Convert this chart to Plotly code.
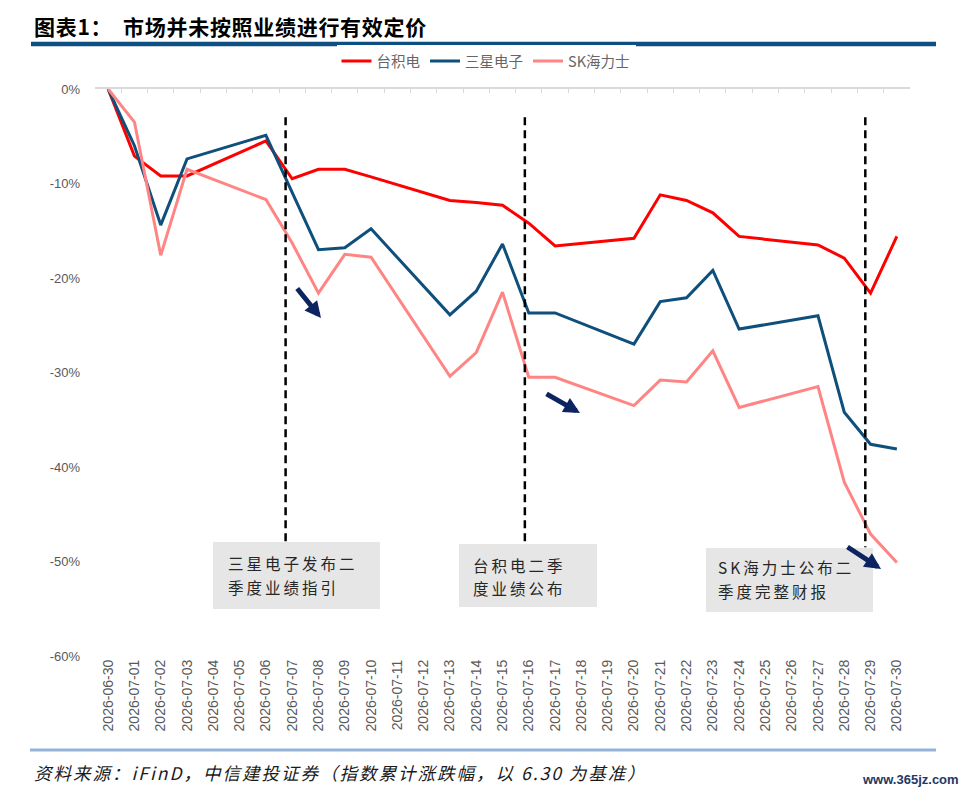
import plotly.graph_objects as go

dates = ["2026-06-30"] + ["2026-07-%02d" % d for d in range(1, 31)]

tsmc = [0, -7.1, -9.2, -9.2, None, None, -5.5, -9.5, -8.5, -8.5, -9.3, None, None,
        -11.8, -12.0, -12.3, -14.2, -16.6, None, None, -15.8, -11.2, -11.8, -13.1,
        -15.6, None, None, -16.5, -17.9, -21.6, -15.6]
samsung = [0, -6.0, -14.4, -7.4, None, None, -4.9, -10.9, -17.0, -16.8, -14.8, None, None,
           -23.9, -21.4, -16.4, -23.7, -23.7, None, None, -27.0, -22.5, -22.1, -19.2,
           -25.4, None, None, -24.0, -34.2, -37.6, -38.1]
hynix = [0, -3.5, -17.6, -8.5, None, None, -11.7, -16.3, -21.6, -17.5, -17.8, None, None,
         -30.4, -27.9, -21.5, -30.5, -30.5, None, None, -33.5, -30.8, -31.0, -27.7,
         -33.7, None, None, -31.5, -41.6, -47.1, -50.1]

series_names = ["台积电", "三星电子", "SK海力士"]
series_colors = ["#ff0000", "#0f4f7b", "#ff8585"]
y_ticks = [0, -10, -20, -30, -40, -50, -60]
y_tick_text = ["0%", "-10%", "-20%", "-30%", "-40%", "-50%", "-60%"]

# page offset from default body margin
OFF = 8
W, H = 967 - OFF, 794 - OFF
# plot area in page pixels: x 95..910, y 89..656
L, T = 95 - OFF, 89 - OFF
R, B = W - (910 - OFF), H - (656 - OFF)
PW, PH = W - L - R, H - T - B


def px(x):
    return (x - OFF - L) / PW


def py(y):
    return (H - B - (y - OFF)) / PH


def spaced(t, s):
    return '<span style="letter-spacing:%spx">%s</span>' % (s, t)


fig = go.Figure()
for name, vals, col in zip(series_names, [tsmc, samsung, hynix], series_colors):
    fig.add_trace(go.Scatter(x=dates, y=vals, name=name, mode="lines",
                             connectgaps=True, line=dict(color=col, width=3)))
fig.add_trace(go.Scatter(x=dates, y=[None] * len(dates), xaxis="x2", showlegend=False,
                         hoverinfo="skip", mode="lines"))

gray = "#595959"
fig.update_layout(
    width=W, height=H,
    margin=dict(l=L, r=R, t=T, b=B, autoexpand=False),
    plot_bgcolor="white", paper_bgcolor="white",
    font=dict(family="Liberation Sans, Noto Sans CJK SC", color=gray),
    showlegend=True,
    legend=dict(orientation="h", x=px(486), y=py(61), xanchor="center", yanchor="middle",
                font=dict(size=14.5, color="#666666", family="Noto Sans CJK SC"),
                itemwidth=30, tracegroupgap=0),
    xaxis=dict(type="category", categoryorder="array", categoryarray=dates,
               range=[-0.5, 30.5], showgrid=False, showline=False, zeroline=False,
               ticks="", tickangle=-90, tickfont=dict(size=14, color=gray)),
    xaxis2=dict(type="category", categoryorder="array", categoryarray=dates,
                overlaying="x", side="top", anchor="y", range=[-0.5, 30.5],
                showticklabels=False, ticks="inside", ticklen=4, tickcolor="#d9d9d9",
                tickson="boundaries", showline=True, linecolor="#d9d9d9", linewidth=1.5,
                showgrid=False, zeroline=False),
    yaxis=dict(range=[-60, 0], tickvals=y_ticks, ticktext=y_tick_text, showgrid=False,
               zeroline=False, showline=False, ticks="", ticklabelstandoff=14,
               tickfont=dict(size=13, color=gray)),
)

shapes = []
shapes.append(dict(type="line", xref="paper", yref="paper", x0=px(31), x1=px(936),
                   y0=py(44), y1=py(44), line=dict(color="#0d4f80", width=4.5)))
shapes.append(dict(type="line", xref="paper", yref="paper", x0=px(30), x1=px(936),
                   y0=py(750), y1=py(750), line=dict(color="#95b3d7", width=3)))
for xv, yb in [(6.75, -47.9), (15.85, -48.1), (28.8, -48.5)]:
    shapes.append(dict(type="line", xref="x", yref="y", x0=xv, x1=xv, y0=-3.0, y1=yb,
                       line=dict(color="black", width=2.5, dash="8px,5px")))
boxes = [(213, 380, 542, 609), (459, 597, 544, 607), (706, 873, 548, 612)]
for x0, x1, y0, y1 in boxes:
    shapes.append(dict(type="rect", xref="paper", yref="paper", x0=px(x0), x1=px(x1),
                       y0=py(y1), y1=py(y0), fillcolor="#e6e6e6", line=dict(width=0),
                       layer="above"))
fig.update_layout(shapes=shapes)

ann = []
ann.append(dict(xref="paper", yref="paper", x=px(32), y=py(OFF + 0.5), xanchor="left",
                yanchor="top", showarrow=False,
                text="<b>" + spaced("图表1：  市场并未按照业绩进行有效定价", 0.7) + "</b>",
                font=dict(size=21, color="black", family="Noto Sans CJK SC")))
box_lines = [("三星电子发布二", 226, 563), ("季度业绩指引", 226, 587),
             ("台积电二季", 471, 565), ("度业绩公布", 471, 588),
             ("SK海力士公布二", 716, 567), ("季度完整财报", 716, 591)]
for t, x, y in box_lines:
    ann.append(dict(xref="paper", yref="paper", x=px(x), y=py(y), xanchor="left",
                    yanchor="middle", align="left", showarrow=False, text=spaced(t, 3),
                    font=dict(size=15.5, color="#262626", family="Noto Sans CJK SC")))
arrows = [((321, 318), (296, 287)), ((580, 413), (545, 393)), ((881, 569), (846, 546))]
for (hx, hy), (tx, ty) in arrows:
    ann.append(dict(xref="paper", yref="paper", x=px(hx), y=py(hy), ax=tx - hx, ay=ty - hy,
                    showarrow=True, arrowhead=2, arrowsize=0.65, arrowwidth=5,
                    arrowcolor="#0c2460", text=""))
ann.append(dict(xref="paper", yref="paper", x=px(32), y=py(772), xanchor="left",
                yanchor="middle", showarrow=False,
                text="<i>" + spaced("资料来源：iFinD，中信建投证券（指数累计涨跌幅，以 6.30 为基准）", 2) + "</i>",
                font=dict(size=17.5, color="#1a1a1a", family="Noto Sans CJK SC")))
ann.append(dict(xref="paper", yref="paper", x=px(961), y=py(779), xanchor="right",
                yanchor="middle", showarrow=False, text="<b>www.365jz.com</b>",
                font=dict(size=13, color="#1f3864", family="Liberation Sans Narrow, Liberation Sans")))
fig.update_layout(annotations=ann)

fig.write_html("out.html")
